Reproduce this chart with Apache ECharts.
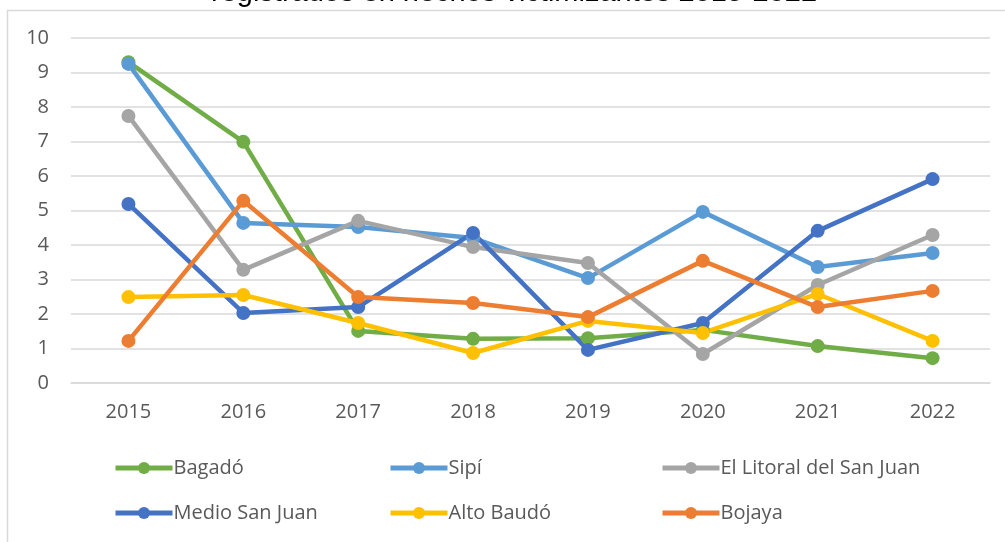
<!DOCTYPE html>
<html>
<head>
<meta charset="utf-8">
<script src="https://cdn.jsdelivr.net/npm/echarts@6/dist/echarts.min.js"></script>
<style>
  html, body { margin: 0; padding: 0; background: #ffffff; }
  #main { width: 1005px; height: 542px; }
</style>
</head>
<body>
<div id="main"></div>
<script>
  // datos
  var years = ['2015', '2016', '2017', '2018', '2019', '2020', '2021', '2022'];
  var bagado = [9.30, 6.99, 1.51, 1.28, 1.30, 1.54, 1.07, 0.72];
  var sipi = [9.25, 4.64, 4.52, 4.20, 3.04, 4.96, 3.36, 3.77];
  var litoral = [7.74, 3.28, 4.70, 3.94, 3.48, 0.84, 2.84, 4.29];
  var medioSanJuan = [5.19, 2.03, 2.20, 4.35, 0.96, 1.74, 4.41, 5.91];
  var altoBaudo = [2.49, 2.55, 1.74, 0.87, 1.80, 1.45, 2.58, 1.22];
  var bojaya = [1.22, 5.28, 2.49, 2.32, 1.91, 3.54, 2.20, 2.67];

  var names = ['Bagadó', 'Sipí', 'El Litoral del San Juan', 'Medio San Juan', 'Alto Baudó', 'Bojaya'];
  var colors = ['#70AD47', '#5B9BD5', '#A5A5A5', '#4472C4', '#FFC000', '#ED7D31'];
  var values = [bagado, sipi, litoral, medioSanJuan, altoBaudo, bojaya];

  var labelFont = '"Open Sans", "Noto Sans", sans-serif';

  var myChart = echarts.init(document.getElementById('main'), null, {renderer: 'canvas'});

  function legendCol(left, data) {
    return {
      orient: 'vertical',
      left: left,
      top: 453,
      itemWidth: 57,
      itemHeight: 15,
      itemGap: 25,
      lineStyle: {width: 5},
      textStyle: {
        color: '#595959',
        fontSize: 20,
        fontFamily: labelFont,
        padding: [0, 0, 0, -4]
      },
      data: data
    };
  }

  var option = {
    animation: false,
    backgroundColor: '#ffffff',
    title: {
      text: 'registrados en hechos victimizantes 2015-2022',
      left: 206,
      top: -27,
      textStyle: {
        color: '#000000',
        fontSize: 29,
        fontWeight: 'normal',
        fontFamily: '"Liberation Sans", Arial, sans-serif'
      }
    },
    graphic: [
      {
        type: 'rect',
        z: -1,
        shape: {x: 7.5, y: 10.5, width: 1100, height: 700},
        style: {fill: 'none', stroke: '#D9D9D9', lineWidth: 1.5}
      }
    ],
    legend: [
      legendCol(108, [names[0], names[3]]),
      legendCol(383, [names[1], names[4]]),
      legendCol(655, [names[2], names[5]])
    ],
    grid: {
      left: 71,
      right: 15,
      top: 38,
      bottom: 159
    },
    xAxis: {
      type: 'category',
      data: years,
      boundaryGap: true,
      axisLine: {lineStyle: {color: '#D9D9D9', width: 1.5}},
      axisTick: {show: false},
      axisLabel: {
        color: '#595959',
        fontSize: 20,
        fontFamily: labelFont,
        margin: 19
      }
    },
    yAxis: {
      type: 'value',
      min: 0,
      max: 10,
      interval: 1,
      axisLine: {show: false},
      axisTick: {show: false},
      splitLine: {lineStyle: {color: '#D9D9D9', width: 1.5}},
      axisLabel: {
        color: '#595959',
        fontSize: 20,
        fontFamily: labelFont,
        margin: 22
      }
    },
    series: names.map(function (n, i) {
      return {
        name: n,
        type: 'line',
        data: values[i],
        symbol: 'circle',
        symbolSize: 14,
        color: colors[i],
        lineStyle: {width: 4.5, color: colors[i]},
        itemStyle: {color: colors[i]}
      };
    })
  };

  myChart.setOption(option);
</script>
</body>
</html>
